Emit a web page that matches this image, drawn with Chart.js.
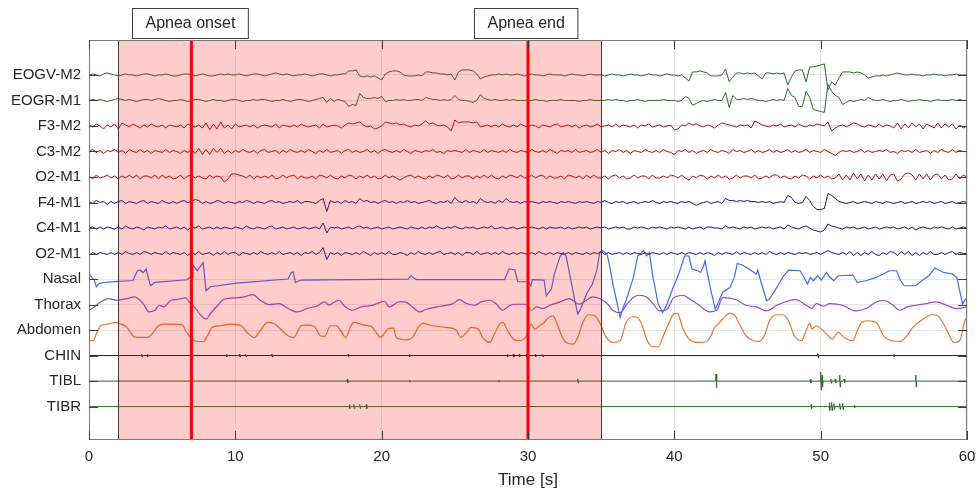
<!DOCTYPE html>
<html>
<head>
<meta charset="utf-8">
<script src="https://cdn.jsdelivr.net/npm/chart.js@4.4.1/dist/chart.umd.min.js"></script>
<style>
  html, body { margin: 0; padding: 0; background: #fff; }
  #wrap { width: 978px; height: 493px; }
</style>
</head>
<body>
<div id="wrap"><canvas id="psg" width="978" height="493"></canvas></div>
<script>
// Channel names, top to bottom
const channelNames = ['EOGV-M2', 'EOGR-M1', 'F3-M2', 'C3-M2', 'O2-M1', 'F4-M1', 'C4-M1', 'O2-M1',
  'Nasal', 'Thorax', 'Abdomen', 'CHIN', 'TIBL', 'TIBR'];

// amplitude units per lane spacing
const laneScale = 25.5;

// apnea event (seconds)
const apneaShade = [2, 35];
const markers = [7, 30];
const markerLabels = ['Apnea onset', 'Apnea end'];

// x ticks
const timeTicks = [0, 10, 20, 30, 40, 50, 60];

// EEG / EOG channels, sampled every 0.25 s (241 samples)
const eogvM2 = [0,1,0,-1, 1,2,1,0, -1,0,1,0, 0,-1,0,1, 1,0,-1,0,
  0,1,0,-1, -1,0,1,1, 0,-1,0,1, 0,-1,-1,0, 1,0,1,0,
  0,1,0,-1, 0,1,1,0, -1,0,1,2, 1,0,1,0, -1,0,0,1,
  0,-1,0,1, 1,0,-1,0, 0,1,1,4, 4,5,-1,-2, -1,-2,-1,-3,
  -5,1,3,4, 4,3,0,-1, -1,-1,0,-1, 3,3,2,2, 1,1,0,1,
  -5,3,5,5, 5,4,1,-4, -2,-1,0,0, 1,0,1,0, 0,1,0,-1,
  0,1,0,0, -1,0,1,0, 0,0,-1,0, 1,0,0,-1, 0,1,0,0,
  0,-1,0,1, 0,0,-1,0, 1,0,0,-1, 0,1,0,0, -1,0,1,0,
  0,-1,0,-3, -6,3,3,4, 3,2,-1,-1, -1,0,6,-7, -2,2,2,1,
  2,1,2,-1, -4,2,2,1, 2,1,2,-10, -2,4,5,5, -7,8,8,9,
  10,11,-15,-7, -10,-3,3,3, 3,2,3,2, 0,-3,-2,-1, -1,0,-1,0,
  1,2,1,0, 0,1,0,0, -1,0,0,1, 0,0,-1,0, 0,1,0,0,
  0];
const eogrM1 = [0,1,0,1, 0,-1,0,1, 2,1,0,1, 0,-1,0,1, 1,0,1,2,
  1,0,-1,0, 0,1,0,-1, 0,1,1,0, -1,0,1,0, 0,-1,0,1,
  1,0,-1,0, 0,1,0,1, 1,0,-1,0, 0,1,0,-1, 0,1,1,0,
  -1,0,1,2, 3,-2,2,-1, 1,0,-1,-6, -4,-5,7,3, 2,2,3,2,
  4,-1,0,0, 1,0,1,0, 0,1,1,0, 3,2,1,1, 0,1,0,1,
  5,1,0,0, -1,-2,0,6, 2,1,0,1, 0,0,1,0, 1,0,0,0,
  0,0,1,0, 0,-1,0,0, 0,1,0,0, 0,0,-1,0, 0,1,0,0,
  0,0,1,0, 1,0,0,-1, 0,0,1,0, -1,0,0,0, 0,1,0,0,
  0,-1,0,4, 2,-5,-3,-1, 0,-1,0,1, 0,0,8,-7, 5,1,1,2,
  1,2,1,0, 0,-1,0,1, 0,1,0,12, 5,3,-6,-6, 9,3,-9,-10,
  -11,-12,16,9, 5,3,-4,-2, 0,-1,0,1, 0,3,1,0, 0,1,0,-1,
  0,0,1,0, -1,0,0,1, 0,0,-1,0, 1,0,0,0, 1,0,1,0,
  0];
const f3M2 = [1,-1,2,0, -3,1,-1,2, -3,3,1,-1, 2,0,-2,1, -1,2,0,-1,
  1,-2,1,0, -1,1,-2,2, 0,-1,1,-2, 3,-4,2,-3, 4,-2,1,-3,
  2,-1,0,1, -1,1,-2,0, 1,0,-1,2, -2,1,0,-1, 1,-1,2,0,
  -1,0,1,-2, 2,-1,0,1, 0,-2,1,3, 2,3,4,1, -1,0,-3,-2,
  0,4,3,2, 3,1,2,0, -1,1,0,2, 5,2,3,1, 0,1,-1,-5,
  6,3,4,4, 4,3,4,-1, 0,1,-1,1, -1,2,0,-1, 1,-1,2,0,
  -1,1,0,-2, 1,0,-1,1, 2,-1,0,1, -1,1,-2,0, 1,-1,0,2,
  -1,0,1,-1, 2,-1,1,0, -1,1,-2,1, 0,2,-1,0, 1,-1,0,1,
  -4,-3,1,0, 3,1,2,0, -1,1,0,-2, 1,3,2,1, 0,-1,1,0,
  1,-2,5,3, 1,0,-1,1, 0,2,-1,0, 1,-1,2,0, -1,1,0,2,
  1,0,4,-5, -2,0,1,-1, 1,3,2,0, -1,1,0,-1, 2,-1,1,0,
  -2,3,-3,2, -2,3,-1,2, -3,2,0,-2, 3,-2,2,-1, 2,-3,1,-2,
  0];
const c3M2 = [0,2,-1,1, -2,1,0,2, -1,1,-2,2, 0,-1,2,-1, 1,-2,1,0,
  -1,2,-1,1, 0,-2,1,-1, 2,-2,3,-3, 2,-3,3,-1, 3,-2,1,-2,
  1,-1,2,0, -1,1,-2,1, 2,-1,0,1, -2,1,-1,2, 0,-1,1,-1,
  2,0,-2,1, -1,2,-1,0, 1,-2,1,2, -1,1,-1,0, 2,-1,1,-2,
  1,2,0,-1, 1,-1,2,0, -2,1,0,-1, 1,0,2,-1, 0,-2,1,0,
  1,0,-1,2, -1,1,0,-1, 2,-1,1,0, -1,1,-1,2, 0,-1,1,0,
  -1,2,0,-1, 1,-1,2,0, -2,1,0,1, -1,2,-1,0, 1,-1,0,2,
  -1,1,-2,1, 0,2,-1,1, -2,1,0,-1, 2,0,-1,1, -1,2,0,-1,
  -3,1,0,2, -1,1,-2,0, 1,-1,2,0, -1,1,0,-2, 2,0,1,-1,
  0,2,-1,1, -1,0,2,-1, 1,-1,0,2, -1,1,-1,0, 2,-1,1,0,
  -1,2,0,-2, -4,-1,1,0, 1,-1,0,2, -1,1,-1,0, 1,0,2,-1,
  0,-2,1,0, 1,-1,2,-1, 0,1,-2,1, -1,2,0,-1, 2,-1,1,0,
  0];
const o2M1Left = [1,-2,2,-1, 0,2,-1,1, -2,1,-1,2, -1,2,-2,1, 1,-1,2,-2,
  2,-1,1,-2, -1,2,-2,1, 2,-1,1,-1, -2,2,-1,1, 0,-5,-2,3,
  3,2,1,-1, 2,-2,1,-1, 1,-1,2,-2, -1,2,-1,1, 2,-2,1,-1,
  -1,1,-2,2, 1,-1,2,-1, -2,1,-1,2, 1,-2,1,-1, 2,-1,1,-2,
  -1,2,-1,1, -1,-3,-1,1, 2,-1,1,-1, -2,1,-1,2, 1,-1,2,-2,
  -1,2,-1,1, 1,-2,1,-1, 2,-1,2,-1, -2,1,-1,2, 1,-1,2,-1,
  -1,2,-1,1, 2,-2,1,-1, -1,1,-2,2, 1,-1,1,-2, 2,-1,2,-1,
  -1,1,-2,1, 2,-1,1,-2, -1,2,-1,1, 1,-2,2,-1, -1,1,-1,2,
  1,-1,2,-1, -3,1,-1,2, 1,-2,1,-1, 2,-1,1,-2, -1,2,-1,1,
  1,-1,2,-2, -1,1,-1,2, 2,-1,1,-1, -2,1,-1,2, 1,-2,1,-1,
  2,-1,1,-2, -1,3,-3,2, -3,4,-2,3, -4,2,-3,3, -2,3,-4,2,
  3,-4,-2,3, 4,2,-3,3, -2,3,-3,2, 3,-2,2,-3, -2,3,-2,2,
  0];
const f4M1 = [1,-1,2,0, 1,-2,1,-1, 1,2,-1,1, 0,-1,1,2, -1,1,0,-1,
  2,0,-1,1, -1,1,2,0, 1,3,2,-1, 1,-1,0,2, 1,-1,1,0,
  -1,1,0,2, 1,-1,1,0, -1,1,2,0, 1,-1,0,1, 0,2,-1,1,
  1,0,-1,2, 4,-9,2,0, 1,-1,2,0, 1,-1,4,1, 2,0,1,-1,
  1,2,0,1, -1,1,0,2, 0,1,-1,0, 1,2,0,-1, 1,0,2,-1,
  5,1,0,2, 0,1,-1,4, 1,0,1,-1, 2,0,4,1, 0,1,-1,1,
  0,1,0,-1, 1,0,1,0, -1,1,0,1, 0,-1,1,0, 1,0,-1,1,
  0,2,0,-1, 1,0,1,-1, 0,1,-1,0, 1,0,2,0, -1,1,0,1,
  0,-1,1,0, 1,-1,-3,-1, 0,1,-1,0, 1,-1,4,2, 2,1,2,1,
  2,1,1,0, 1,0,1,-1, 0,1,0,7, 5,0,-1,0, 6,2,-4,-7,
  -7,-6,9,7, 4,1,0,-1, 0,1,-1,0, 1,0,-1,1, 0,-1,1,0,
  -1,0,1,-1, 0,1,-1,0, 1,0,1,-1, 0,1,-1,0, 1,-1,0,1,
  0];
const c4M1 = [0,1,-1,1, -1,1,0,-1, 1,-1,2,0, -1,1,0,-2, 1,0,-1,1,
  0,2,-1,0, 1,-1,1,-2, 1,0,2,-1, 0,1,-1,1, -1,1,0,-1,
  1,0,-1,2, 0,-1,1,0, -1,1,2,-1, 0,1,-1,0, 1,-1,0,1,
  -1,0,1,-1, 5,-5,1,0, 1,-1,0,1, -1,1,2,0, 1,-1,0,1,
  -1,0,1,-1, 0,1,0,-1, 1,0,-1,1, -1,1,0,2, 0,-1,1,0,
  2,0,-1,1, 0,1,-1,0, 1,0,2,-1, 0,1,-1,0, 1,-1,0,1,
  0,1,0,-1, 1,-1,1,0, 0,1,-1,1, -1,0,1,0, 1,-1,0,1,
  0,1,-1,0, 1,0,1,-1, -1,1,0,1, 0,-1,1,0, 1,0,-1,1,
  0,1,0,-1, 1,-1,0,1, -1,1,1,0, 0,-1,2,0, 1,0,-1,1,
  0,1,-1,0, 1,0,1,-1, 0,1,-1,3, 1,0,-1,1, 2,0,-2,-3,
  -4,-2,4,2, 1,0,-1,1, 0,1,-1,0, 1,-1,0,1, -1,0,1,0,
  1,-1,0,1, -1,1,-2,0, 1,0,-1,1, 0,1,0,-1, 1,-1,0,1,
  0];
const o2M1Right = [-2,1,-1,1, 0,-1,1,-1, 1,-1,2,0, -1,1,-1,2, 1,-1,1,0,
  -1,2,-1,1, 0,-1,1,-2, 1,-1,2,-1, 0,1,-2,1, -1,2,-1,1,
  1,-2,1,0, -1,1,-1,2, 0,-1,1,-1, 2,-1,0,1, -1,1,-2,1,
  0,2,-1,1, 6,-6,1,-1, 1,-2,1,0, -1,1,-1,2, 0,-2,1,-1,
  1,-1,2,-1, -1,1,0,-2, 1,-1,2,0, -1,1,-1,1, 2,-1,0,1,
  -1,1,-2,1, 1,-1,2,-1, 0,1,-1,1, -1,2,0,-1, 1,-1,1,0,
  -1,1,-1,2, 0,-1,1,-1, 1,0,-1,1, -1,1,0,-1, 1,-1,1,0,
  2,-1,1,-1, 0,1,-1,1, -1,1,0,-1, 1,-1,1,0, -1,1,-1,1,
  0,-1,1,-1, 1,0,-1,1, -1,1,0,-2, 1,-1,1,0, -1,2,-1,1,
  0,-1,1,-1, 1,-1,2,0, -1,1,-1,1, 0,-1,1,0, 1,-1,0,1,
  -1,1,3,1, 0,-1,1,-1, 2,-2,1,-2, 1,-1,2,-1, -2,1,-1,2,
  1,-2,2,-1, 2,-2,1,-2, 1,-1,2,-1, -1,1,-1,1, 2,-1,1,0,
  0];

// respiratory channels: time (s) and amplitude
const nasalT = [0,0.35,0.5,0.7,1.3,3.0,3.3,3.5,3.7,3.9,4.2,4.5,6.7,6.9,7.05,7.1,7.4,7.8,8.0,8.3,
  10.1,13.6,13.8,13.95,14.1,14.5,21.8,22.0,22.2,22.4,28.4,28.7,29.1,29.3,30.0,30.2,30.3,31.1,31.25,31.6,
  31.8,32.2,32.4,32.6,32.8,33.2,33.4,33.6,34.0,34.4,34.7,34.9,35.1,35.4,35.6,35.8,36.1,36.3,36.5,36.7,
  37.2,37.5,37.9,38.1,38.3,38.5,38.9,39.2,39.5,39.9,40.3,40.6,40.7,41.0,41.2,41.6,41.8,42.0,42.1,42.2,
  42.5,42.8,42.96,43.3,43.8,44.1,44.3,44.6,45.1,45.6,45.7,45.9,46.3,46.5,47.0,47.4,47.8,48.6,48.8,49.1,
  49.3,49.5,49.8,50.05,50.4,50.6,50.9,51.2,52.2,52.5,53.1,53.8,54.7,55.2,55.4,55.7,56.5,56.9,57.4,57.8,
  58.4,59.0,59.3,59.5,59.7,59.9,60];
const nasalV = [5,-0.7,-7.7,-4.4,-3,-1.5,8,9,6.5,10,-6.7,-3.4,-0.7,1.6,1.6,14,8.3,16.6,-11.7,-7.7,
  -4,0,6,7.3,-3.4,-1,0,3.3,1,-0.5,-0.5,10,9,-2.7,-2.7,-6.7,-0.7,-1,-16.7,-10,
  5,23,26.6,23,8.3,-21.7,-35,-30,-15,-5,8.3,26.6,28.3,25,11.6,-5,-25,-38.4,-28.4,-21.7,
  1.6,23,28.3,23,26.6,5,-25,-33.4,-25,-9,5,18.3,23,23,10,8.3,6.6,13.3,18.3,10,
  -11.7,-30,-25,-13.4,-8.4,1.6,15.6,14.3,10,5,9,-1.7,-21.7,-20,-8.4,1.6,9,8.3,3.3,-5,
  1.6,-1.7,3.3,-1,6.6,2.3,-1.7,3.3,4,-3.4,-1.7,1.6,8.3,8.3,0,-6.7,-6.7,-1.7,3.3,11,
  6.6,5,1.6,-11.7,-25,-20,-19];

const thoraxT = [0,0.36,0.8,1.3,1.9,2.6,3.1,3.7,4.1,4.5,4.8,5.1,5.6,6.0,6.6,6.85,7.2,7.6,8.0,8.3,
  8.8,9.2,9.9,10.6,11.2,11.7,12.3,13.0,13.6,14.25,14.9,15.6,16.1,16.4,16.8,17.1,17.4,18.0,18.6,19.3,
  19.7,20.2,20.5,21.2,21.6,22.1,22.6,23.0,24.0,24.9,25.3,25.8,26.35,26.8,27.4,27.8,28.3,28.6,29.0,29.9,
  30.2,30.6,31.0,31.5,32.2,32.8,33.5,34.0,34.4,34.9,35.4,35.8,36.3,36.7,37.2,37.6,38.1,38.5,39.0,39.5,
  39.9,40.2,40.6,41.0,41.7,42.4,42.9,43.3,44.2,44.9,45.6,46.3,47.0,47.9,48.3,49.0,49.4,49.7,50.2,50.6,
  51.5,52.4,53.1,53.8,54.3,54.9,55.4,55.9,56.5,57.2,57.9,58.6,59.3,60];
const thoraxV = [-5.7,-2.4,2.6,6,4.3,6,7.6,1,-7.4,-5.7,-0.7,-2.4,4.3,5,6.6,2.6,-2.4,-10,-14.7,-9,
  -0.7,5.3,6.6,7.6,10,4.3,0,1,-4,-7.4,-4,-1.4,2.6,-0.5,2.6,4.3,-0.7,-5.7,-2.4,-1,
  1,3.3,-2.4,2.6,2.6,-2.4,-7.4,-5,-1.7,1,5,1,-0.7,2.6,4.3,1,-5.7,-2.4,0.3,0.3,
  -5.7,-2.4,-4,-0.7,2.6,6,0.3,4.3,7.6,6,1,-5.7,-8.4,-0.7,7,9.3,7.6,1.6,-6.4,-5,
  6,8.3,9.3,6,-0.7,-7.4,-5.7,7,5,-0.7,-2.4,-6.4,-0.7,4.3,5,-0.7,-4,1,-1.7,1,
  -0.7,-6.4,-4,2.6,4.3,0,-5.7,-2.4,-0.7,1,2.6,-0.7,-4,-2.4];

const abdomenT = [0,0.3,0.5,0.8,1.3,1.8,2.2,2.6,3.0,3.3,4.0,4.3,4.7,5.0,5.8,6.4,6.6,6.85,7.2,7.8,
  8.1,8.4,9.0,9.7,10.4,10.8,11.3,11.7,12.2,12.7,13.1,13.6,14.0,14.5,14.9,15.4,15.8,16.1,16.5,16.9,
  17.2,17.55,17.9,18.1,18.8,19.3,19.7,19.9,20.3,20.4,20.8,21.0,21.3,21.7,22.1,22.5,22.8,23.5,24.4,25.1,
  25.4,25.8,26.1,26.6,26.9,27.4,27.7,28.1,28.3,28.6,29.0,29.4,29.9,30.2,30.45,30.8,31.1,31.3,31.7,31.95,
  32.3,32.6,33.1,33.4,33.75,34.1,34.55,34.9,35.35,35.8,36.3,36.7,37.2,37.5,37.85,38.1,38.5,38.9,39.2,39.7,
  39.9,40.2,40.6,41.0,41.5,42.2,42.5,42.75,43.0,43.3,43.8,44.1,44.5,44.9,45.4,45.8,46.2,46.5,47.0,47.4,
  47.8,48.2,48.7,49.0,49.25,49.4,49.7,50.05,50.4,50.8,51.2,51.6,52.2,52.5,52.8,53.2,53.8,54.3,54.7,55.4,
  55.9,56.3,57.0,57.6,58.0,58.4,58.75,59.1,59.5,59.85,60];
const abdomenV = [-10.7,-10.7,-4,4.3,6,7.6,6,2.6,-5.7,-7.4,-7.4,-4,3.6,6,6,5,-0.7,-5.7,-10.7,-11.7,
  -5.7,2.6,4.3,6,4.3,-2.4,-7.4,-0.7,7.6,6,1,-5.7,-7.4,4.3,5,3.6,-5.7,-6.4,4.3,4.3,
  -0.7,-7.4,4.3,7.6,5,3.6,-4,-7.4,-1,1,2,-7.4,-9,-10,-7.4,2.6,6.6,4.3,2.6,0,
  -7.4,-2.4,2.6,1,-7.4,-12.4,-4,6.6,7.6,-0.7,-9,-10.7,-5.7,6,1,4.3,7.6,11,14.3,7.6,
  -5.7,-12.4,-14,-7.4,7.6,15.3,14.3,7.6,-7.4,-12.4,-10.7,7.6,13.3,12.6,2.6,-9,-16.7,-16.7,-7.4,9.3,
  15.3,16.6,1,-9,-12.4,-11.4,-5.7,2.6,6,11,16.6,15.3,4.3,-5.7,-10.7,-11.4,-4,9.3,15.3,15.3,
  9.3,-5.7,-10.7,-0.7,6.6,1,4.3,1,-4,-9,-2.4,-7.4,-10.7,-0.7,7.6,9.3,7.6,-5.7,-10,-11.4,
  -5.7,2.6,11,15.3,14.3,6,-4,-12.4,-10.7,9.3,12];

// EMG channels: burst times (s) and amplitudes
const chinT = [3.6, 4.0, 9.4, 10.3, 10.7, 12.5, 17.7, 21.9, 28.6, 29.0, 29.4, 29.9, 30.5, 31.0, 49.8, 55.0];
const chinA = [1, 1, 1, 1.5, 1, 1.5, 1, 1, 1, 1.5, 1, 1.5, 1, 1, 2, 1];
const tiblT = [17.65, 21.9, 28.0, 33.4, 42.85, 49.3, 50.0, 50.1, 50.7, 51.0, 51.3, 51.6, 56.5];
const tiblA = [2, 1, 1, 2, 7, 2, 9, 6, 2, 2, 6, 2, 6];
const tibrT = [17.8, 18.1, 18.5, 18.95, 49.35, 50.6, 50.75, 50.9, 51.3, 51.5, 52.3];
const tibrA = [2, 2, 2, 2, 2, 4, 4, 3, 3, 3, 1];

const colors = {
  eog: '#2d6a2d', eegL: '#a3161c', eegR: '#1c1c78', nasal: '#3d6fe6',
  thorax: '#9c47c4', abdomen: '#e8762d', chin: '#202020', tib: '#2e7031'
};

// ---- build datasets ----
const nLanes = channelNames.length;
const laneOf = (i) => nLanes - 1 - i;

const eegTime = [];
for (let i = 0; i < eogvM2.length; i++) eegTime.push(i * 0.25);

function sampled(values, i) {
  return values.map((v, k) => ({ x: eegTime[k], y: laneOf(i) + v / laneScale }));
}
function paired(times, values, i) {
  return times.map((t, k) => ({ x: t, y: laneOf(i) + values[k] / laneScale }));
}
function bursts(times, amps, i) {
  const base = laneOf(i);
  const pts = [{ x: 0, y: base }];
  times.forEach((t, k) => {
    const a = amps[k] / laneScale;
    pts.push({ x: t - 0.03, y: base }, { x: t, y: base + a }, { x: t + 0.03, y: base - a }, { x: t + 0.06, y: base });
  });
  pts.push({ x: 60, y: base });
  return pts;
}

const line = (data, color, extra) => Object.assign({
  data, borderColor: color, borderWidth: 1, pointRadius: 0, tension: 0, fill: false
}, extra || {});

const datasets = [
  line(sampled(eogvM2, 0), colors.eog),
  line(sampled(eogrM1, 1), colors.eog),
  line(sampled(f3M2, 2), colors.eegL),
  line(sampled(c3M2, 3), colors.eegL),
  line(sampled(o2M1Left, 4), colors.eegL),
  line(sampled(f4M1, 5), colors.eegR),
  line(sampled(c4M1, 6), colors.eegR),
  line(sampled(o2M1Right, 7), colors.eegR),
  line(paired(nasalT, nasalV, 8), colors.nasal, { borderWidth: 1.2 }),
  line(paired(thoraxT, thoraxV, 9), colors.thorax, { borderWidth: 1.2, cubicInterpolationMode: 'monotone' }),
  line(paired(abdomenT, abdomenV, 10), colors.abdomen, { borderWidth: 1.2, cubicInterpolationMode: 'monotone' }),
  line(bursts(chinT, chinA, 11), colors.chin),
  line(bursts(tiblT, tiblA, 12), colors.tib),
  line(bursts(tibrT, tibrA, 13), colors.tib)
];

// shaded apnea window, marker lines, frame, inward ticks and label boxes
const apneaOverlay = {
  id: 'apneaOverlay',
  afterDatasetsDraw(chart) {
    const { ctx, chartArea: a, scales: { x, y } } = chart;
    const x1 = x.getPixelForValue(apneaShade[0]);
    const x2 = x.getPixelForValue(apneaShade[1]);
    ctx.save();
    ctx.fillStyle = 'rgba(255, 0, 0, 0.2)';
    ctx.fillRect(x1, a.top, x2 - x1, a.bottom - a.top);
    ctx.strokeStyle = '#3a3a3a';
    ctx.lineWidth = 1;
    ctx.beginPath();
    [x1, x2].forEach(px => {
      const p = Math.round(px) + 0.5;
      ctx.moveTo(p, a.top);
      ctx.lineTo(p, a.bottom);
    });
    ctx.stroke();

    ctx.strokeStyle = '#ff0000';
    ctx.lineWidth = 3;
    ctx.beginPath();
    markers.forEach(m => {
      const p = x.getPixelForValue(m);
      ctx.moveTo(p, a.top);
      ctx.lineTo(p, a.bottom);
    });
    ctx.stroke();

    // frame
    ctx.strokeStyle = '#7a7a7a';
    ctx.lineWidth = 1;
    ctx.strokeRect(Math.round(a.left) + 0.5, Math.round(a.top) + 0.5,
      Math.round(a.right - a.left) - 1, Math.round(a.bottom - a.top) - 1);

    // inward ticks
    ctx.strokeStyle = '#404040';
    ctx.beginPath();
    x.ticks.forEach(t => {
      const p = Math.round(x.getPixelForValue(t.value)) + 0.5;
      ctx.moveTo(p, a.bottom); ctx.lineTo(p, a.bottom - 9);
      ctx.moveTo(p, a.top); ctx.lineTo(p, a.top + 9);
    });
    y.ticks.forEach(t => {
      const p = Math.round(y.getPixelForValue(t.value)) + 0.5;
      ctx.moveTo(a.left, p); ctx.lineTo(a.left + 9, p);
      ctx.moveTo(a.right, p); ctx.lineTo(a.right - 9, p);
    });
    ctx.stroke();

    // label boxes above the plot
    ctx.font = '16px "Liberation Sans", Arial, sans-serif';
    ctx.textBaseline = 'middle';
    ctx.textAlign = 'center';
    markers.forEach((m, i) => {
      const w = ctx.measureText(markerLabels[i]).width + 26;
      const cx = x.getPixelForValue(m) - 2;
      const bx = Math.round(cx - w / 2) + 0.5;
      ctx.fillStyle = '#ffffff';
      ctx.fillRect(bx, 8.5, w, 30);
      ctx.strokeStyle = '#404040';
      ctx.strokeRect(bx, 8.5, w, 30);
      ctx.fillStyle = '#262626';
      ctx.fillText(markerLabels[i], bx + w / 2, 24);
    });
    ctx.restore();
  }
};

new Chart(document.getElementById('psg'), {
  type: 'line',
  data: { datasets },
  plugins: [apneaOverlay],
  options: {
    responsive: false,
    animation: false,
    devicePixelRatio: 1,
    layout: { padding: { top: 40, right: 11, left: 0, bottom: 0 } },
    plugins: { legend: { display: false }, tooltip: { enabled: false } },
    scales: {
      x: {
        type: 'linear',
        min: 0,
        max: 60,
        afterBuildTicks: (s) => { s.ticks = timeTicks.map(v => ({ value: v })); },
        afterFit: (s) => { s.height = 53; s.paddingLeft = 0; s.paddingRight = 0; },
        grid: { color: '#e6e6e6', drawTicks: false },
        border: { display: false },
        ticks: { color: '#262626', padding: 8, font: { family: '"Liberation Sans", Arial, sans-serif', size: 15 } },
        title: {
          display: true, text: 'Time [s]', color: '#262626',
          padding: { top: 0, bottom: 2 },
          font: { family: '"Liberation Sans", Arial, sans-serif', size: 17 }
        }
      },
      y: {
        type: 'linear',
        min: -1.31,
        max: 14.37,
        afterBuildTicks: (s) => { s.ticks = channelNames.map((_, i) => ({ value: laneOf(i) })); },
        afterFit: (s) => { s.width = 89; },
        grid: { color: '#e6e6e6', drawTicks: false },
        border: { display: false },
        ticks: {
          color: '#262626', padding: 8,
          font: { family: '"Liberation Sans", Arial, sans-serif', size: 15 },
          callback: (v) => channelNames[nLanes - 1 - v]
        }
      }
    }
  }
});
</script>
</body>
</html>
